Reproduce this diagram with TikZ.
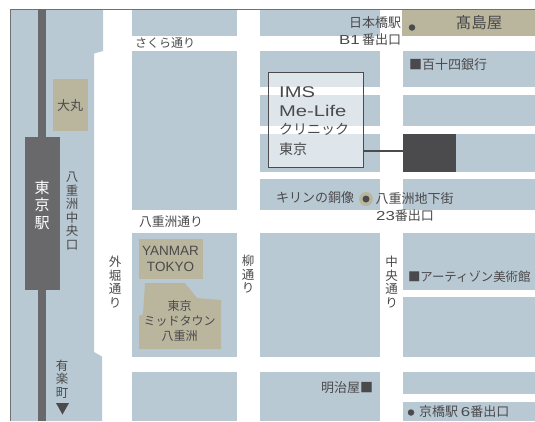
\documentclass[tikz,border=0pt]{standalone}
\usepackage{fontspec}
\setmainfont{Liberation Sans}
\newfontfamily\jp{Noto Sans CJK JP}
\newfontfamily\wide[FakeStretch=1.3]{Liberation Sans}
\definecolor{blockc}{HTML}{B9C9D3}
\definecolor{tanc}{HTML}{BAB69E}
\definecolor{stationc}{HTML}{69686B}
\definecolor{darkc}{HTML}{4B4B4D}
\definecolor{txtc}{HTML}{4A4A4C}
\definecolor{framec}{HTML}{6E7072}
\tikzset{
  x=1pt,y=-1pt,
  block/.style={fill=blockc,draw=none},
  tanblock/.style={fill=tanc,draw=none},
  lbl/.style={text=txtc,font=\jp\fontsize{13}{15}\selectfont,inner sep=0pt,outer sep=0pt},
  vlbl/.style={lbl,align=center,font=\jp\fontsize{12.5}{13.5}\selectfont},
  infotext/.style={text=txtc,inner sep=0pt,align=left,anchor=north west}
}
\newcommand{\blk}[4]{\fill[block] (#1,#3) rectangle (#2,#4);}
\begin{document}
\begin{tikzpicture}
\useasboundingbox (0,0) rectangle (535,421);
% left area
\fill[block] (11,9) -- (103,9) -- (103,51) -- (94,53.5) -- (94,352) -- (102,356.5) -- (102,421) -- (11,421) -- cycle;
% column A
\blk{132}{237}{9}{36}
\blk{132}{237}{51}{210}
\blk{132}{237}{233}{357}
\blk{132}{237}{372}{421}
% column B
\blk{260}{380}{9}{36}
\blk{260}{380}{51}{87}
\blk{260}{380}{95}{126}
\blk{260}{380}{134}{172}
\blk{260}{380}{179}{210}
\blk{260}{380}{233}{357}
\blk{260}{380}{372}{421}
% column C
\fill[tanblock] (402,9) rectangle (535,36);
\blk{403}{535}{51}{87}
\blk{403}{535}{95}{126}
\blk{403}{535}{134}{172}
\blk{403}{535}{179}{210}
\blk{403}{535}{233}{290}
\blk{403}{535}{297}{357}
\blk{403}{535}{372}{394}
\blk{403}{535}{402}{421}
% frame
\draw[framec,line width=0.9pt] (10.5,421) -- (10.5,9) -- (535,9);
% rail and station
\fill[stationc] (38,9) rectangle (46,421);
\node[fill=stationc,minimum width=35pt,minimum height=153pt,inner sep=0pt,anchor=north west] (station) at (25,137) {};
\node[text=white,font=\jp\fontsize{15}{17.5}\selectfont,align=center,inner sep=0pt] (stationtext) at (42,205) {東\\京\\駅};
% tan buildings
\node[tanblock,minimum width=35pt,minimum height=52pt,inner sep=0pt,anchor=north west] (daimarubox) at (53,79) {};
\node[lbl] (daimaru) at (70,106) {大丸};
\node[tanblock,minimum width=64pt,minimum height=40pt,inner sep=0pt,anchor=north west] (yanmarbox) at (139,239) {};
\node[lbl,align=center,font=\fontsize{13.5}{15.5}\selectfont] (yanmar) at (170.5,259) {YANMAR\\TOKYO};
\fill[tanblock] (145,283) -- (185,283) -- (197,298) -- (221,300) -- (221,349) -- (139,349) -- (139,316) -- (143,314) -- cycle;
\node[lbl,align=center,font=\jp\fontsize{12}{15}\selectfont] (midtown) at (179.5,321) {東京\\ミッドタウン\\八重洲};
% target building + info box
\node[fill=darkc,minimum width=53pt,minimum height=38pt,inner sep=0pt,anchor=north west] (target) at (403,134) {};
\node[draw=darkc,line width=1.3pt,fill=white,fill opacity=0.55,draw opacity=1,minimum width=95pt,minimum height=95pt,inner sep=0pt,anchor=north west] (info) at (267.5,72) {};
\node[infotext,font=\wide\fontsize{15.5}{19}\selectfont] (infotxt) at (279,86) {IMS\\Me-Life};
\node[infotext,font=\jp\fontsize{14}{20}\selectfont] (infojp) at (279,123) {クリニック\\東京};
\coordinate (conn) at (403,151);
\draw[darkc,line width=1.1pt] (info.east |- conn) -- (target.west |- conn);
% labels
\node[lbl,anchor=center,font=\jp\fontsize{12}{14}\selectfont] (sakura) at (165,43.5) {さくら通り};
\node[lbl,anchor=east] (nihon) at (401,23) {日本橋駅};
\node[lbl,anchor=east] (b1) at (401,40) {{\wide B1}\,番出口};
\node[fill=darkc,circle,minimum size=6.5pt,inner sep=0pt] (d1) at (412,27.5) {};
\node[lbl,font=\jp\fontsize{15.5}{17}\selectfont] (taka) at (479,23) {髙島屋};
\node[lbl,anchor=west] (hyaku) at (409,65) {■百十四銀行};
\node[lbl,anchor=east] (kirin) at (354,198) {キリンの銅像};
\node[fill=tanc,circle,minimum size=14pt,inner sep=0pt] (d2o) at (366,199) {};
\node[fill=darkc,circle,minimum size=7pt,inner sep=0pt] (d2) at (366,199) {};
\node[lbl,anchor=west] (yachika) at (375.5,199) {八重洲地下街};
\node[lbl,anchor=center] (n23) at (405,216) {{\wide 23}番出口};
\node[lbl,font=\jp\fontsize{12.8}{15}\selectfont] (yaesudori) at (171,221.5) {八重洲通り};
\node[vlbl] (yaesuguchi) at (72,211) {八\\重\\洲\\中\\央\\口};
\node[vlbl] (sotobori) at (115,282) {外\\堀\\通\\り};
\node[vlbl] (yanagi) at (248,274.5) {柳\\通\\り};
\node[vlbl] (chuo) at (391.5,282) {中\\央\\通\\り};
\node[vlbl] (yuraku) at (62,379) {有\\楽\\町};
\fill[darkc] (56,403) -- (69,403) -- (62.5,414.5) -- cycle;
\node[lbl,anchor=west,font=\jp\fontsize{12.4}{15}\selectfont] (artizon) at (408,277) {■アーティゾン美術館};
\node[lbl,anchor=east] (meijiya) at (373,388) {明治屋■};
\node[fill=darkc,circle,minimum size=6.5pt,inner sep=0pt] (d3) at (411,412.5) {};
\node[lbl,anchor=west] (kyobashi) at (419,412) {京橋駅 {\wide 6}番出口};
\end{tikzpicture}
\end{document}
